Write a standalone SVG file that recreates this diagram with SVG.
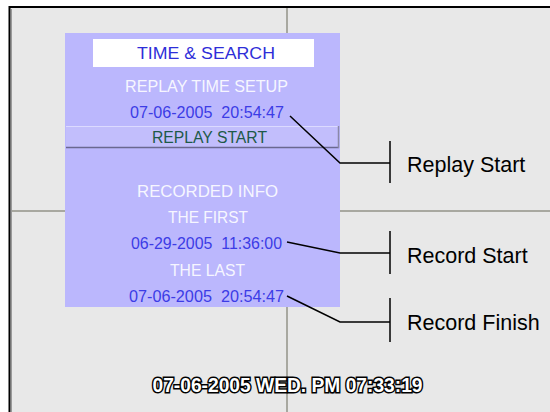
<svg xmlns="http://www.w3.org/2000/svg" width="550" height="412" viewBox="0 0 550 412">
  <style>
    .pt { font-family: "Liberation Sans", Arial, sans-serif; font-size: 16px; text-anchor: middle; white-space: pre; }
    .wh { fill: #f6f6ff; }
    .bl { fill: #3c3ce6; }
    .lbl { font-family: "Liberation Sans", Arial, sans-serif; font-size: 21.5px; fill: #000; }
    .grid { stroke: #a8a8a0; stroke-width: 2; fill: none; }
    .conn { stroke: #000; stroke-width: 1.5; fill: none; }
  </style>
  <rect x="0" y="0" width="550" height="412" fill="#ffffff"/>
  <rect x="10" y="8" width="540" height="404" fill="#e8e8e8"/>
  <g id="grid">
    <line class="grid" x1="287" y1="8" x2="287" y2="412"/>
    <line class="grid" x1="11" y1="211" x2="550" y2="211"/>
  </g>
  <g id="frame">
    <line x1="9" y1="7" x2="550" y2="7" stroke="#000" stroke-width="2"/>
    <line x1="9.5" y1="6" x2="9.5" y2="412" stroke="#000" stroke-width="2"/>
    <line x1="11.5" y1="9" x2="11.5" y2="412" stroke="#9a9a9a" stroke-width="1"/>
  </g>
  <g id="panel">
    <rect x="65" y="33" width="275" height="274" fill="#bbb7fd"/>
    <rect x="93" y="39" width="221" height="28" fill="#ffffff"/>
    <text class="pt" x="206" y="59" fill="#2e2ed8" textLength="138" lengthAdjust="spacingAndGlyphs">TIME &amp; SEARCH</text>
    <text class="pt wh" x="206.5" y="92" textLength="163" lengthAdjust="spacingAndGlyphs">REPLAY TIME SETUP</text>
    <text class="pt bl" x="207" y="118" textLength="154" lengthAdjust="spacingAndGlyphs">07-06-2005  20:54:47</text>
  </g>
  <g id="replay-start-bar">
    <rect x="66" y="126" width="273" height="22" fill="#c2befc"/>
    <line x1="66" y1="126.5" x2="339" y2="126.5" stroke="#dcdaff" stroke-width="1"/>
    <line x1="66" y1="147.5" x2="339" y2="147.5" stroke="#6a6890" stroke-width="1.5"/>
    <line x1="338.5" y1="126" x2="338.5" y2="148" stroke="#8a88a8" stroke-width="1.5"/>
    <text class="pt" x="209.5" y="143" fill="#1e5a48" textLength="115" lengthAdjust="spacingAndGlyphs">REPLAY START</text>
  </g>
  <g id="recorded-info">
    <text class="pt wh" x="207.5" y="197" textLength="141" lengthAdjust="spacingAndGlyphs">RECORDED INFO</text>
    <text class="pt wh" x="208" y="223" textLength="80" lengthAdjust="spacingAndGlyphs">THE FIRST</text>
    <text class="pt bl" x="206.5" y="249" textLength="151" lengthAdjust="spacingAndGlyphs">06-29-2005  11:36:00</text>
    <text class="pt wh" x="207.5" y="275.5" textLength="75" lengthAdjust="spacingAndGlyphs">THE LAST</text>
    <text class="pt bl" x="206.5" y="302" textLength="155" lengthAdjust="spacingAndGlyphs">07-06-2005  20:54:47</text>
  </g>
  <g id="connectors">
    <polyline class="conn" points="290,116 340,163 390,163"/>
    <line class="conn" x1="390" y1="141" x2="390" y2="183"/>
    <polyline class="conn" points="287,242 340,253 390,253"/>
    <line class="conn" x1="390" y1="231" x2="390" y2="274"/>
    <polyline class="conn" points="287,296 340,322 390,322"/>
    <line class="conn" x1="390" y1="298" x2="390" y2="342"/>
  </g>
  <g id="label-replay-start"><text class="lbl" x="407" y="172">Replay Start</text></g>
  <g id="label-record-start"><text class="lbl" x="407" y="263">Record Start</text></g>
  <g id="label-record-finish"><text class="lbl" x="407" y="330">Record Finish</text></g>
  <g id="status">
    <text x="287.5" y="392" font-family="Liberation Sans, Arial, sans-serif" font-weight="bold" font-size="20" text-anchor="middle" fill="#ffffff" stroke="#000000" stroke-width="3" stroke-linejoin="miter" paint-order="stroke" textLength="270" lengthAdjust="spacingAndGlyphs">07-06-2005 WED. PM 07:33:19</text>
  </g>
</svg>
